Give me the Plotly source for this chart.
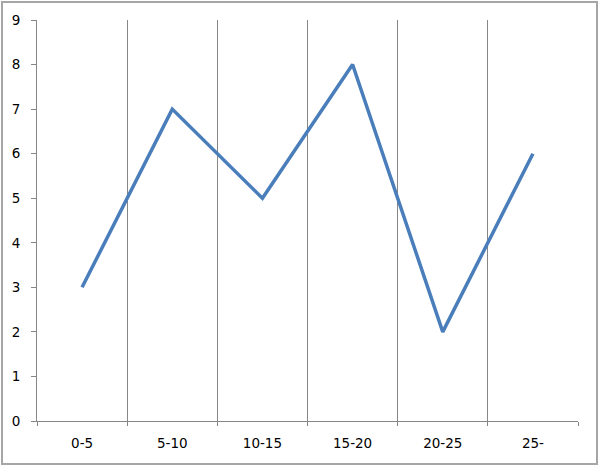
import plotly.graph_objects as go

categories = ["0-5", "5-10", "10-15", "15-20", "20-25", "25-"]
values = [3, 7, 5, 8, 2, 6]
y_ticks = list(range(0, 10))

L, R, T, B = 37, 22, 20, 46
W, H = 600, 467
pw = W - L - R
ph = H - T - B

def px_x(px):
    return (px - L) / pw

def px_y(py):
    return (H - B - py) / ph

fig = go.Figure()
fig.add_trace(go.Scatter(
    x=categories, y=values, mode="lines",
    line=dict(color="#4a7ebb", width=3.5),
    showlegend=False, hoverinfo="skip",
))

fig.update_layout(
    width=W, height=H,
    margin=dict(l=L, r=R, t=T, b=B),
    paper_bgcolor="white", plot_bgcolor="white",
    font=dict(family="DejaVu Sans, sans-serif", size=13.5, color="#000000"),
    xaxis=dict(
        type="category", range=[-0.5, 5.5],
        tickson="boundaries", ticks="outside", ticklen=4, tickcolor="#868686",
        showgrid=True, gridcolor="#868686", gridwidth=1,
        showline=True, linecolor="#868686", linewidth=1,
        tickfont=dict(size=13.5, color="#000000"), ticklabelstandoff=10,
        fixedrange=True,
    ),
    yaxis=dict(
        range=[0, 9], tickvals=y_ticks, ticks="outside", ticklen=5,
        tickcolor="#868686", showgrid=False, zeroline=False,
        showline=True, linecolor="#868686", linewidth=1,
        tickfont=dict(size=13.5, color="#000000"), ticklabelstandoff=8,
        fixedrange=True,
    ),
    shapes=[dict(
        type="rect", xref="paper", yref="paper",
        x0=px_x(2), x1=px_x(597), y0=px_y(464), y1=px_y(2),
        line=dict(color="#a6a6a6", width=2), layer="below",
    )],
)

fig.write_html(
    "out.html",
    config={"displayModeBar": False},
    post_script="document.body.style.margin='0';document.body.style.overflow='hidden';",
)
